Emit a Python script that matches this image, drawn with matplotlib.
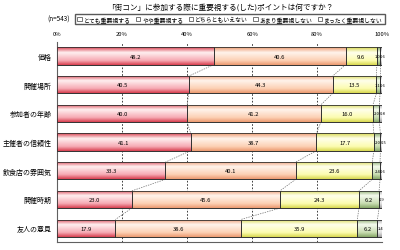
import numpy as np
import matplotlib
matplotlib.use('Agg')
from matplotlib import pyplot as plt
from matplotlib.patches import Patch
from matplotlib.colors import LinearSegmentedColormap

plt.rcParams['font.family'] = ['Noto Sans CJK JP', 'DejaVu Sans']

title = '「街コン」に参加する際に重要視する(した)ポイントは何ですか？'
categories = ['価格', '開催場所', '参加者の年齢', '主催者の信頼性', '飲食店の雰囲気', '開催時期', '友人の意見']
series_names = ['とても重要視する', 'やや重要視する', 'どちらともいえない', 'あまり重要視しない', 'まったく重要視しない']
v_very = [48.2, 40.5, 40.0, 41.1, 33.3, 23.0, 17.9]
v_some = [40.6, 44.3, 41.2, 38.7, 40.1, 45.6, 38.6]
v_neutral = [9.6, 13.5, 16.0, 17.7, 23.6, 24.3, 35.9]
v_little = [1.0, 1.1, 2.0, 2.0, 2.4, 6.2, 6.2]
v_none = [0.6, 0.6, 0.8, 0.5, 0.6, 0.9, 1.4]
ticks = [0, 20, 40, 60, 80, 100]

data = [v_very, v_some, v_neutral, v_little, v_none]
# (edge colour, highlight, body colour)
shades = [('#d84050', '#fff0f0', '#f6aab4'),
          ('#ec9a70', '#fff4ec', '#fcd0b4'),
          ('#d8d850', '#ffffec', '#fcfcb0'),
          ('#88a868', '#f4faee', '#c8dcb0'),
          ('#a0a0a0', '#ffffff', '#e4e4e4')]

fig = plt.figure(figsize=(4, 2.51), dpi=100)
ax = fig.add_axes([0.143, 0.03, 0.812, 0.80])

y = np.arange(len(categories))
h = 0.6
left = np.zeros(len(categories))
bounds = []
grad = np.linspace(0, 1, 64).reshape(-1, 1)
for k, (vals, (dark, light, body)) in enumerate(zip(data, shades)):
    bars = ax.barh(y, vals, left=left, height=h, color=body, edgecolor='#404040', linewidth=0.6, zorder=3)
    cmap = LinearSegmentedColormap.from_list('g', [(0, dark), (0.3, light), (0.75, body), (1, dark)], N=64)
    for b in bars:
        bx, by = b.get_x(), b.get_y()
        im = ax.imshow(grad, cmap=cmap, aspect='auto', extent=[bx, bx + b.get_width(), by + b.get_height(), by],
                       zorder=3.5, interpolation='bilinear')
        im.set_clip_path(b)
        ax.add_patch(plt.Rectangle((bx, by), b.get_width(), b.get_height(),
                                   fill=False, edgecolor='#303030', linewidth=0.6, zorder=4))
    for yi, (l, v) in enumerate(zip(left, vals)):
        if v >= 3:
            ax.text(l + v / 2, yi, f'{v:.1f}', ha='center', va='center', fontsize=4.2, zorder=5)
        elif k == 3:
            ax.text(l + v, yi, f'{v:.1f}', ha='right', va='center', fontsize=3.0, zorder=5)
        else:
            ax.text(l, yi, f'{v:.1f}', ha='left', va='center', fontsize=3.0, zorder=5)
    left = left + np.array(vals)
    bounds.append(left.copy())

# series lines between bars
for bnd in bounds[:-1]:
    for i in range(len(categories) - 1):
        ax.plot([bnd[i], bnd[i + 1]], [i + h / 2, i + 1 - h / 2], color='#707070',
                linestyle=(0, (2, 1.5)), linewidth=0.5, zorder=2)

ax.set_xlim(0, 100)
ax.set_ylim(len(categories) - 0.5, -0.5)
ax.set_xticks(ticks)
ax.set_xticklabels([f'{t}%' for t in ticks], fontsize=4.2)
ax.xaxis.tick_top()
ax.tick_params(axis='x', length=0, pad=4)
ax.set_yticks(y)
ax.set_yticklabels(categories, fontsize=5)
ax.tick_params(axis='y', length=0, pad=4)
ax.grid(axis='x', color='#202020', linestyle=(0, (2, 2)), linewidth=0.6, zorder=1)
for s in ['top', 'right']:
    ax.spines[s].set_visible(False)
ax.spines['left'].set_color('#606060')
ax.spines['bottom'].set_color('#606060')

handles = [Patch(facecolor='white', edgecolor='#404040', linewidth=0.5) for _ in series_names]
fig.legend(handles, series_names, loc='center', bbox_to_anchor=(0.575, 0.92), ncol=5, fontsize=4.2,
           frameon=True, fancybox=False, edgecolor='#303030', handlelength=0.8, handleheight=0.8,
           handletextpad=0.3, columnspacing=0.9, borderpad=0.3)
fig.text(0.118, 0.92, '(n=543)', ha='left', va='center', fontsize=4.6)
fig.suptitle(title, fontsize=5.5, y=0.985, x=0.55)

fig.savefig('out.png', dpi=100)
